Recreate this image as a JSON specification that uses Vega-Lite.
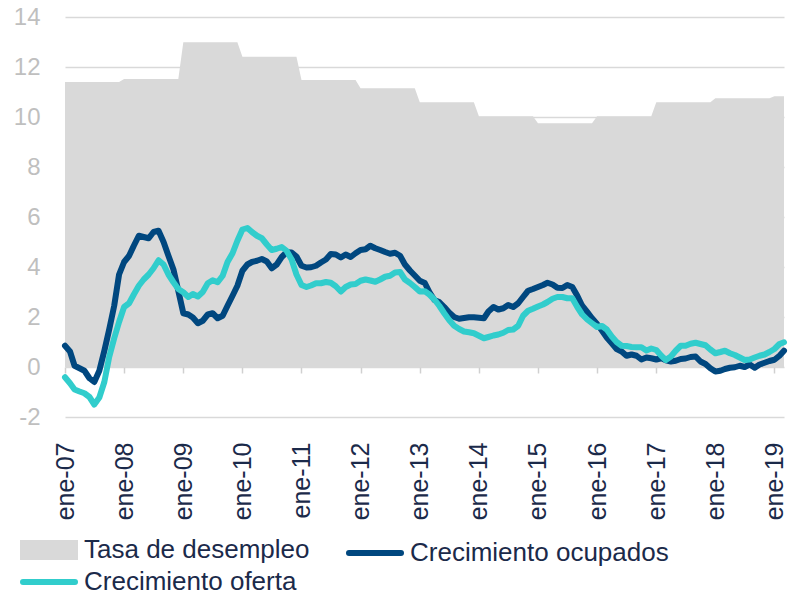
{
  "$schema": "https://vega.github.io/schema/vega-lite/v6.json",
  "width": 719,
  "height": 400,
  "autosize": {"type": "none"},
  "padding": {"left": 65, "top": 17, "right": 6, "bottom": 179},
  "background": "white",
  "datasets": {
    "tasa": [
      {"fecha": "2007-01-01", "tasa": 11.4}, {"fecha": "2007-12-01", "tasa": 11.4},
      {"fecha": "2008-01-01", "tasa": 11.52}, {"fecha": "2008-12-01", "tasa": 11.52},
      {"fecha": "2009-01-01", "tasa": 12.99}, {"fecha": "2009-12-01", "tasa": 12.99},
      {"fecha": "2010-01-01", "tasa": 12.41}, {"fecha": "2010-12-01", "tasa": 12.41},
      {"fecha": "2011-01-01", "tasa": 11.48}, {"fecha": "2011-12-01", "tasa": 11.48},
      {"fecha": "2012-01-01", "tasa": 11.15}, {"fecha": "2012-12-01", "tasa": 11.15},
      {"fecha": "2013-01-01", "tasa": 10.59}, {"fecha": "2013-12-01", "tasa": 10.59},
      {"fecha": "2014-01-01", "tasa": 10.03}, {"fecha": "2014-12-01", "tasa": 10.03},
      {"fecha": "2015-01-01", "tasa": 9.75}, {"fecha": "2015-12-01", "tasa": 9.75},
      {"fecha": "2016-01-01", "tasa": 10.03}, {"fecha": "2016-12-01", "tasa": 10.03},
      {"fecha": "2017-01-01", "tasa": 10.59}, {"fecha": "2017-12-01", "tasa": 10.59},
      {"fecha": "2018-01-01", "tasa": 10.75}, {"fecha": "2018-12-01", "tasa": 10.75},
      {"fecha": "2019-01-01", "tasa": 10.83}, {"fecha": "2019-03-01", "tasa": 10.83}
    ],
    "crec": [
      {"fecha": "2007-01-01", "ocupados": 0.85, "oferta": -0.41},
      {"fecha": "2007-02-01", "ocupados": 0.62, "oferta": -0.65},
      {"fecha": "2007-03-01", "ocupados": 0.05, "oferta": -0.9},
      {"fecha": "2007-04-01", "ocupados": -0.05, "oferta": -0.98},
      {"fecha": "2007-05-01", "ocupados": -0.15, "oferta": -1.05},
      {"fecha": "2007-06-01", "ocupados": -0.45, "oferta": -1.2},
      {"fecha": "2007-07-01", "ocupados": -0.6, "oferta": -1.5},
      {"fecha": "2007-08-01", "ocupados": -0.15, "oferta": -1.22},
      {"fecha": "2007-09-01", "ocupados": 0.65, "oferta": -0.6},
      {"fecha": "2007-10-01", "ocupados": 1.5, "oferta": 0.4},
      {"fecha": "2007-11-01", "ocupados": 2.45, "oferta": 1.15},
      {"fecha": "2007-12-01", "ocupados": 3.7, "oferta": 1.8},
      {"fecha": "2008-01-01", "ocupados": 4.2, "oferta": 2.4},
      {"fecha": "2008-02-01", "ocupados": 4.45, "oferta": 2.55},
      {"fecha": "2008-03-01", "ocupados": 4.85, "oferta": 2.9},
      {"fecha": "2008-04-01", "ocupados": 5.25, "oferta": 3.25},
      {"fecha": "2008-05-01", "ocupados": 5.2, "oferta": 3.5},
      {"fecha": "2008-06-01", "ocupados": 5.15, "oferta": 3.7},
      {"fecha": "2008-07-01", "ocupados": 5.4, "oferta": 3.95},
      {"fecha": "2008-08-01", "ocupados": 5.45, "oferta": 4.27},
      {"fecha": "2008-09-01", "ocupados": 5.0, "oferta": 4.1},
      {"fecha": "2008-10-01", "ocupados": 4.45, "oferta": 3.7},
      {"fecha": "2008-11-01", "ocupados": 3.9, "oferta": 3.39},
      {"fecha": "2008-12-01", "ocupados": 3.05, "oferta": 3.12},
      {"fecha": "2009-01-01", "ocupados": 2.15, "oferta": 2.99},
      {"fecha": "2009-02-01", "ocupados": 2.1, "oferta": 2.8},
      {"fecha": "2009-03-01", "ocupados": 1.98, "oferta": 2.92},
      {"fecha": "2009-04-01", "ocupados": 1.75, "oferta": 2.82},
      {"fecha": "2009-05-01", "ocupados": 1.85, "oferta": 3.0},
      {"fecha": "2009-06-01", "ocupados": 2.1, "oferta": 3.35},
      {"fecha": "2009-07-01", "ocupados": 2.15, "oferta": 3.47},
      {"fecha": "2009-08-01", "ocupados": 1.95, "oferta": 3.39},
      {"fecha": "2009-09-01", "ocupados": 2.05, "oferta": 3.65},
      {"fecha": "2009-10-01", "ocupados": 2.45, "oferta": 4.2},
      {"fecha": "2009-11-01", "ocupados": 2.85, "oferta": 4.55},
      {"fecha": "2009-12-01", "ocupados": 3.25, "oferta": 5.05},
      {"fecha": "2010-01-01", "ocupados": 3.85, "oferta": 5.5},
      {"fecha": "2010-02-01", "ocupados": 4.1, "oferta": 5.56},
      {"fecha": "2010-03-01", "ocupados": 4.2, "oferta": 5.4},
      {"fecha": "2010-04-01", "ocupados": 4.25, "oferta": 5.25},
      {"fecha": "2010-05-01", "ocupados": 4.32, "oferta": 5.15},
      {"fecha": "2010-06-01", "ocupados": 4.22, "oferta": 4.9},
      {"fecha": "2010-07-01", "ocupados": 3.95, "oferta": 4.68},
      {"fecha": "2010-08-01", "ocupados": 4.1, "oferta": 4.73},
      {"fecha": "2010-09-01", "ocupados": 4.4, "oferta": 4.8},
      {"fecha": "2010-10-01", "ocupados": 4.59, "oferta": 4.65},
      {"fecha": "2010-11-01", "ocupados": 4.58, "oferta": 4.3},
      {"fecha": "2010-12-01", "ocupados": 4.42, "oferta": 3.7},
      {"fecha": "2011-01-01", "ocupados": 4.05, "oferta": 3.28},
      {"fecha": "2011-02-01", "ocupados": 3.98, "oferta": 3.2},
      {"fecha": "2011-03-01", "ocupados": 3.99, "oferta": 3.26},
      {"fecha": "2011-04-01", "ocupados": 4.05, "oferta": 3.35},
      {"fecha": "2011-05-01", "ocupados": 4.18, "oferta": 3.35},
      {"fecha": "2011-06-01", "ocupados": 4.3, "oferta": 3.4},
      {"fecha": "2011-07-01", "ocupados": 4.52, "oferta": 3.37},
      {"fecha": "2011-08-01", "ocupados": 4.5, "oferta": 3.23},
      {"fecha": "2011-09-01", "ocupados": 4.38, "oferta": 3.02},
      {"fecha": "2011-10-01", "ocupados": 4.5, "oferta": 3.2},
      {"fecha": "2011-11-01", "ocupados": 4.4, "oferta": 3.3},
      {"fecha": "2011-12-01", "ocupados": 4.55, "oferta": 3.32},
      {"fecha": "2012-01-01", "ocupados": 4.68, "oferta": 3.45},
      {"fecha": "2012-02-01", "ocupados": 4.71, "oferta": 3.5},
      {"fecha": "2012-03-01", "ocupados": 4.85, "oferta": 3.46},
      {"fecha": "2012-04-01", "ocupados": 4.75, "oferta": 3.41},
      {"fecha": "2012-05-01", "ocupados": 4.68, "oferta": 3.5},
      {"fecha": "2012-06-01", "ocupados": 4.6, "oferta": 3.61},
      {"fecha": "2012-07-01", "ocupados": 4.53, "oferta": 3.65},
      {"fecha": "2012-08-01", "ocupados": 4.57, "oferta": 3.78},
      {"fecha": "2012-09-01", "ocupados": 4.45, "oferta": 3.8},
      {"fecha": "2012-10-01", "ocupados": 4.1, "oferta": 3.5},
      {"fecha": "2012-11-01", "ocupados": 3.86, "oferta": 3.36},
      {"fecha": "2012-12-01", "ocupados": 3.66, "oferta": 3.2},
      {"fecha": "2013-01-01", "ocupados": 3.45, "oferta": 3.02},
      {"fecha": "2013-02-01", "ocupados": 3.36, "oferta": 3.03},
      {"fecha": "2013-03-01", "ocupados": 3.0, "oferta": 2.9},
      {"fecha": "2013-04-01", "ocupados": 2.68, "oferta": 2.7},
      {"fecha": "2013-05-01", "ocupados": 2.6, "oferta": 2.45},
      {"fecha": "2013-06-01", "ocupados": 2.4, "oferta": 2.15},
      {"fecha": "2013-07-01", "ocupados": 2.18, "oferta": 1.88},
      {"fecha": "2013-08-01", "ocupados": 2.0, "oferta": 1.65},
      {"fecha": "2013-09-01", "ocupados": 1.93, "oferta": 1.52},
      {"fecha": "2013-10-01", "ocupados": 1.96, "oferta": 1.42},
      {"fecha": "2013-11-01", "ocupados": 1.99, "oferta": 1.39},
      {"fecha": "2013-12-01", "ocupados": 1.99, "oferta": 1.35},
      {"fecha": "2014-01-01", "ocupados": 1.97, "oferta": 1.25},
      {"fecha": "2014-02-01", "ocupados": 1.95, "oferta": 1.15},
      {"fecha": "2014-03-01", "ocupados": 2.22, "oferta": 1.2},
      {"fecha": "2014-04-01", "ocupados": 2.4, "oferta": 1.26},
      {"fecha": "2014-05-01", "ocupados": 2.3, "oferta": 1.3},
      {"fecha": "2014-06-01", "ocupados": 2.35, "oferta": 1.37},
      {"fecha": "2014-07-01", "ocupados": 2.48, "oferta": 1.48},
      {"fecha": "2014-08-01", "ocupados": 2.4, "oferta": 1.5},
      {"fecha": "2014-09-01", "ocupados": 2.55, "oferta": 1.65},
      {"fecha": "2014-10-01", "ocupados": 2.8, "oferta": 2.05},
      {"fecha": "2014-11-01", "ocupados": 3.05, "oferta": 2.25},
      {"fecha": "2014-12-01", "ocupados": 3.12, "oferta": 2.33},
      {"fecha": "2015-01-01", "ocupados": 3.2, "oferta": 2.42},
      {"fecha": "2015-02-01", "ocupados": 3.28, "oferta": 2.5},
      {"fecha": "2015-03-01", "ocupados": 3.37, "oferta": 2.6},
      {"fecha": "2015-04-01", "ocupados": 3.3, "oferta": 2.73},
      {"fecha": "2015-05-01", "ocupados": 3.17, "oferta": 2.8},
      {"fecha": "2015-06-01", "ocupados": 3.16, "oferta": 2.8},
      {"fecha": "2015-07-01", "ocupados": 3.28, "oferta": 2.75},
      {"fecha": "2015-08-01", "ocupados": 3.2, "oferta": 2.75},
      {"fecha": "2015-09-01", "ocupados": 2.85, "oferta": 2.4},
      {"fecha": "2015-10-01", "ocupados": 2.45, "oferta": 2.1},
      {"fecha": "2015-11-01", "ocupados": 2.2, "oferta": 1.9},
      {"fecha": "2015-12-01", "ocupados": 1.95, "oferta": 1.75},
      {"fecha": "2016-01-01", "ocupados": 1.72, "oferta": 1.6},
      {"fecha": "2016-02-01", "ocupados": 1.45, "oferta": 1.64},
      {"fecha": "2016-03-01", "ocupados": 1.18, "oferta": 1.5},
      {"fecha": "2016-04-01", "ocupados": 0.95, "oferta": 1.22},
      {"fecha": "2016-05-01", "ocupados": 0.72, "oferta": 1.0},
      {"fecha": "2016-06-01", "ocupados": 0.62, "oferta": 0.85},
      {"fecha": "2016-07-01", "ocupados": 0.45, "oferta": 0.84},
      {"fecha": "2016-08-01", "ocupados": 0.5, "oferta": 0.8},
      {"fecha": "2016-09-01", "ocupados": 0.45, "oferta": 0.79},
      {"fecha": "2016-10-01", "ocupados": 0.3, "oferta": 0.79},
      {"fecha": "2016-11-01", "ocupados": 0.38, "oferta": 0.66},
      {"fecha": "2016-12-01", "ocupados": 0.35, "oferta": 0.74},
      {"fecha": "2017-01-01", "ocupados": 0.3, "oferta": 0.68},
      {"fecha": "2017-02-01", "ocupados": 0.35, "oferta": 0.45},
      {"fecha": "2017-03-01", "ocupados": 0.27, "oferta": 0.28},
      {"fecha": "2017-04-01", "ocupados": 0.22, "oferta": 0.42},
      {"fecha": "2017-05-01", "ocupados": 0.25, "oferta": 0.65},
      {"fecha": "2017-06-01", "ocupados": 0.32, "oferta": 0.85},
      {"fecha": "2017-07-01", "ocupados": 0.34, "oferta": 0.85},
      {"fecha": "2017-08-01", "ocupados": 0.4, "oferta": 0.93},
      {"fecha": "2017-09-01", "ocupados": 0.42, "oferta": 0.97},
      {"fecha": "2017-10-01", "ocupados": 0.22, "oferta": 0.92},
      {"fecha": "2017-11-01", "ocupados": 0.12, "oferta": 0.87},
      {"fecha": "2017-12-01", "ocupados": -0.05, "oferta": 0.7},
      {"fecha": "2018-01-01", "ocupados": -0.18, "oferta": 0.55},
      {"fecha": "2018-02-01", "ocupados": -0.15, "oferta": 0.6},
      {"fecha": "2018-03-01", "ocupados": -0.08, "oferta": 0.65},
      {"fecha": "2018-04-01", "ocupados": -0.03, "oferta": 0.55},
      {"fecha": "2018-05-01", "ocupados": -0.01, "oferta": 0.48},
      {"fecha": "2018-06-01", "ocupados": 0.05, "oferta": 0.38},
      {"fecha": "2018-07-01", "ocupados": 0.0, "oferta": 0.28},
      {"fecha": "2018-08-01", "ocupados": 0.1, "oferta": 0.3},
      {"fecha": "2018-09-01", "ocupados": -0.03, "oferta": 0.38},
      {"fecha": "2018-10-01", "ocupados": 0.1, "oferta": 0.45},
      {"fecha": "2018-11-01", "ocupados": 0.17, "oferta": 0.5},
      {"fecha": "2018-12-01", "ocupados": 0.24, "oferta": 0.6},
      {"fecha": "2019-01-01", "ocupados": 0.29, "oferta": 0.72},
      {"fecha": "2019-02-01", "ocupados": 0.45, "oferta": 0.92},
      {"fecha": "2019-03-01", "ocupados": 0.65, "oferta": 0.99}
    ]
  },
  "layer": [
    {
      "data": {"name": "tasa"},
      "transform": [{"fold": ["tasa"], "as": ["serie", "valor"]}],
      "mark": {"type": "area", "opacity": 1, "interpolate": "linear"},
      "encoding": {
        "x": {
          "field": "fecha", "type": "temporal",
          "scale": {"type": "utc", "domain": [{"year": 2007, "month": 1, "date": 1, "utc": true}, {"year": 2019, "month": 3, "date": 1, "utc": true}]},
          "axis": {
            "orient": "bottom", "title": null, "domain": false, "ticks": false, "tickSize": 0, "grid": false,
            "labelAngle": 270, "labelFontSize": 25, "labelColor": "#1b2a4a", "labelPadding": 25,
            "labelFlush": false, "labelOverlap": false,
            "tickCount": {"interval": "year", "step": 1},
            "labelExpr": "'ene-' + utcFormat(datum.value, '%y')"
          }
        },
        "y": {
          "field": "valor", "type": "quantitative",
          "scale": {"domain": [-2, 14], "nice": false, "zero": false},
          "axis": {"title": null, "tickCount": 8, "labelExpr": "datum.value < 0 ? '-' + abs(datum.value) : '' + datum.value"}
        },
        "color": {
          "field": "serie", "type": "nominal",
          "scale": {"domain": ["tasa", "ocupados", "oferta"], "range": ["#d9d9d9", "#00477f", "#31cdcc"]}
        }
      }
    },
    {
      "data": {"name": "crec"},
      "transform": [{"fold": ["ocupados", "oferta"], "as": ["serie", "valor"]}],
      "mark": {"type": "line", "strokeWidth": 6, "strokeJoin": "round", "strokeCap": "round"},
      "encoding": {
        "x": {
          "field": "fecha", "type": "temporal",
          "axis": {
            "orient": "bottom", "offset": -50, "title": null, "domain": false, "labels": false, "grid": false,
            "ticks": true, "tickSize": 6, "tickColor": "#d0d0d0", "tickWidth": 1.5,
            "tickCount": {"interval": "year", "step": 1}
          }
        },
        "y": {
          "field": "valor", "type": "quantitative",
          "axis": {"title": null, "tickCount": 8, "labelExpr": "datum.value < 0 ? '-' + abs(datum.value) : '' + datum.value"}
        },
        "color": {
          "field": "serie", "type": "nominal",
          "legend": {
            "title": null, "orient": "none", "legendX": -29, "legendY": 520,
            "values": ["tasa", "oferta", "ocupados"],
            "columns": 2, "columnPadding": 27, "rowPadding": 0,
            "symbolSize": 400, "symbolStrokeWidth": 6,
            "labelFontSize": 26, "labelFont": "Liberation Sans", "labelColor": "#1b2a4a", "labelOffset": 22, "labelLimit": 0,
            "labelExpr": "datum.value === 'tasa' ? 'Tasa de desempleo' : datum.value === 'ocupados' ? 'Crecimiento ocupados' : 'Crecimiento oferta'",
            "encoding": {
              "symbols": {
                "shape": {"value": {"expr": "datum.value === 'tasa' ? 'M-2.6,-0.7H2.6V0.7H-2.6Z' : 'M-2.6,0H2.6'"}},
                "fill": {"value": {"expr": "datum.value === 'tasa' ? '#d9d9d9' : 'transparent'"}},
                "stroke": {"value": {"expr": "datum.value === 'tasa' ? 'transparent' : datum.value === 'ocupados' ? '#00477f' : '#31cdcc'"}},
                "strokeWidth": {"value": 6},
                "strokeCap": {"value": "round"},
                "opacity": {"value": 1}
              }
            }
          }
        }
      }
    }
  ],
  "resolve": {"axis": {"x": "independent"}},
  "config": {
    "font": "Liberation Sans",
    "view": {"stroke": null},
    "axisY": {
      "domain": false, "ticks": false, "labelFontSize": 24, "labelColor": "#bfbfbf", "labelPadding": 25,
      "gridColor": "#d9d9d9", "gridWidth": 1.5, "labelFont": "Liberation Sans"
    },
    "axisX": {"labelFont": "Liberation Sans"}
  }
}
